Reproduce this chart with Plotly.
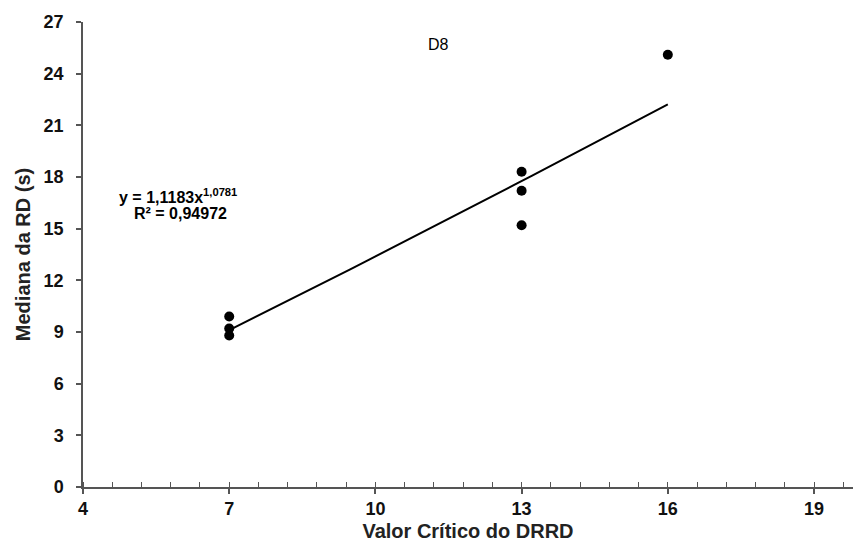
import numpy as np
import plotly.graph_objects as go

# Data
x_vals = [7, 7, 7, 13, 13, 13, 16]
y_vals = [9.9, 9.2, 8.8, 18.3, 17.2, 15.2, 25.1]

# Power trendline coefficients (as printed on chart)
coef_a = 1.1183
coef_b = 1.0781
fit_x = np.linspace(7, 16, 30)
fit_y = coef_a * fit_x ** coef_b

x_ticks = [4, 7, 10, 13, 16, 19]
y_ticks = [0, 3, 6, 9, 12, 15, 18, 21, 24, 27]

fig = go.Figure()
fig.add_trace(go.Scatter(x=fit_x, y=fit_y, mode="lines",
                         line=dict(color="black", width=2), showlegend=False,
                         hoverinfo="skip"))
fig.add_trace(go.Scatter(x=x_vals, y=y_vals, mode="markers",
                         marker=dict(color="black", size=10), showlegend=False))

tick_font = dict(family="Liberation Sans", size=18, color="#111")
title_font = dict(family="Liberation Sans", size=20, color="#222")

fig.update_layout(
    width=853, height=554,
    margin=dict(l=83, r=0, t=22, b=67),
    plot_bgcolor="white", paper_bgcolor="white",
    font=dict(family="Liberation Sans", color="black"),
    xaxis=dict(range=[4, 19.8], tickvals=x_ticks,
               ticktext=[f"<b>{t}</b>" for t in x_ticks],
               showgrid=False, zeroline=False,
               showline=True, linecolor="#555", linewidth=1.5,
               ticks="outside", ticklen=5, tickcolor="#555", tickwidth=1.5,
               minor=dict(dtick=0.6, tick0=4, ticks="inside", ticklen=5,
                          tickcolor="#555", tickwidth=1),
               tickfont=tick_font,
               title=dict(text="<b>Valor Crítico do DRRD</b>", font=title_font, standoff=6)),
    yaxis=dict(range=[0, 27], tickvals=y_ticks,
               ticktext=[f"<b>{t}</b>" for t in y_ticks],
               showgrid=False, zeroline=False,
               showline=True, linecolor="#555", linewidth=1.5,
               ticks="outside", ticklen=5, tickcolor="#555", tickwidth=1.5,
               tickfont=tick_font, ticklabelstandoff=9,
               title=dict(text="<b>Mediana da RD (s)</b>", font=title_font, standoff=8)),
    annotations=[
        dict(x=11.3, y=25.7, xref="x", yref="y", text="D8", showarrow=False,
             font=dict(family="Liberation Sans", size=16, color="black")),
        dict(x=5.95, y=16.9, xref="x", yref="y",
             text="<b>y = 1,1183x<sup>1,0781</sup></b>", showarrow=False,
             font=dict(family="Liberation Sans", size=16, color="black")),
        dict(x=6.0, y=15.9, xref="x", yref="y",
             text="<b>R² = 0,94972</b>", showarrow=False,
             font=dict(family="Liberation Sans", size=16, color="black")),
    ],
)

fig.write_html("out.html")
